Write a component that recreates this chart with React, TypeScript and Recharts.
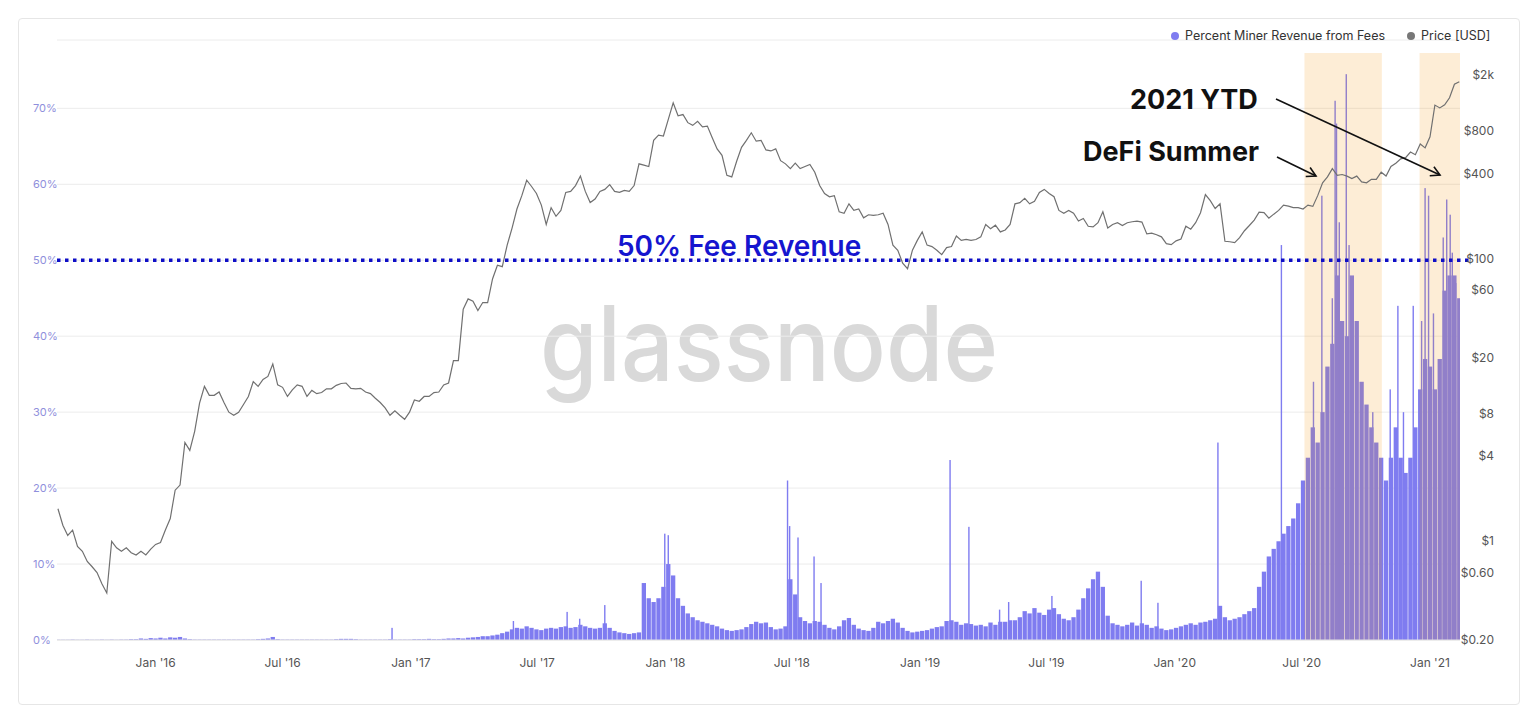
import React from 'react';
import { ComposedChart, Bar, Line, XAxis, YAxis, CartesianGrid, ReferenceLine, ReferenceArea } from 'recharts';

const W = 1537;
const H = 723;
const DAY = 86400000;

// Weekly samples, one every 7 days starting on this date
const firstWeek = '2015-08-14';

// ETH price [USD], weekly
const price2015 = [1.7, 1.3, 1.1, 1.2, 0.92, 0.85, 0.72, 0.66, 0.6, 0.5, 0.43, 1.0, 0.9, 0.85, 0.9, 0.83, 0.8, 0.85, 0.8, 0.88];
const price2016 = [
  0.95, 0.98, 1.2, 1.45, 2.3,
  2.5, 5.0, 4.4, 6.0,
  9.5, 12.5, 10.8, 10.8,
  11.4, 9.6, 8.2, 7.8, 8.2,
  9.3, 10.6, 13.5, 12.5,
  14.0, 14.7, 18.0, 12.8,
  12.3, 10.6, 11.8, 12.8, 12.5,
  10.6, 11.7, 11.1, 11.3,
  12.0, 12.0, 12.7, 13.1, 13.2,
  12.1, 12.0, 12.1, 11.4,
  11.1, 10.3, 9.6, 8.8,
  7.8, 8.4, 7.8, 7.3, 8.2,
];
const price2017 = [
  10.0, 9.8, 10.6, 10.6,
  11.3, 11.4, 12.8, 13.2,
  19.0, 19.0, 44, 52, 50,
  43, 49, 49, 72,
  90, 88, 125, 165,
  225, 280, 360, 325, 290,
  240, 175, 230, 200,
  220, 295, 300, 330,
  385, 300, 250, 265, 300,
  310, 335, 300, 295,
  305, 300, 330, 470,
  460, 450, 690, 750, 740,
];
const price2018 = [
  970, 1270, 1030, 1050,
  920, 880, 940, 860,
  870, 720, 600, 540, 390,
  380, 490, 615, 690,
  780, 680, 690, 590,
  580, 600, 495, 470, 435,
  475, 435, 450, 465,
  410, 330, 290, 275, 280,
  215, 210, 245, 220,
  225, 195, 205, 203,
  205, 210, 175, 125, 115,
  93, 85, 115, 135,
];
const price2019 = [
  155, 125, 122, 115,
  107, 120, 122, 145,
  135, 137, 135, 137, 143,
  175, 163, 173, 155,
  160, 175, 245, 250, 268,
  245, 255, 295, 310,
  290, 275, 220, 210,
  220, 210, 185, 193, 170,
  168, 180, 215, 165,
  175, 180, 172, 180,
  183, 185, 182, 150, 152,
  148, 143, 128, 126,
];
const price2020 = [
  134, 138, 170, 162, 180,
  212, 285, 258, 227,
  245, 133, 132, 130,
  141, 158, 172, 188,
  214, 212, 194, 207, 220,
  240, 236, 230, 230,
  225, 240, 235, 280, 345,
  380, 435, 390, 395,
  385, 370, 385, 350,
  345, 365, 365, 410, 385,
  450, 475, 510, 520,
  570, 545, 650, 610,
];
const price2021 = [730, 1225, 1170, 1230, 1380, 1720, 1790];

// Percent of miner revenue from fees [%], weekly level
const fee2015 = [0.03, 0.03, 0.03, 0.05, 0.03, 0.03, 0.05, 0.03, 0.03, 0.05, 0.03, 0.05, 0.03, 0.05, 0.05, 0.1, 0.1, 0.2, 0.15, 0.25];
const fee2016 = [
  0.2, 0.3, 0.2, 0.35, 0.3, 0.4, 0.2, 0.1, 0.05, 0.05,
  0.05, 0.05, 0.05, 0.05, 0.05, 0.05, 0.05, 0.05, 0.05, 0.05,
  0.05, 0.1, 0.15, 0.2, 0.4, 0.1, 0.05, 0.05, 0.05, 0.05,
  0.05, 0.05, 0.05, 0.05, 0.05, 0.05, 0.05, 0.1, 0.15, 0.15,
  0.15, 0.1, 0.05, 0.05, 0.05, 0.05, 0.05, 0.05, 0.1, 0.05,
  0.05, 0.05, 0.05,
];
const fee2017 = [
  0.1, 0.1, 0.1, 0.15, 0.1, 0.1, 0.15, 0.2,
  0.2, 0.25, 0.2, 0.3, 0.35, 0.4, 0.5, 0.5, 0.6, 0.7,
  0.9, 1.1, 1.4, 1.6, 1.5, 1.8, 1.6, 1.4, 1.3, 1.5,
  1.6, 1.5, 1.7, 1.8, 1.6, 1.7, 2.0, 1.8, 1.6, 1.5,
  1.6, 2.2, 1.6, 1.2, 1.0, 0.9, 0.8, 0.9, 1.0,
  7.5, 5.5, 5.0, 5.5, 7.0,
];
const fee2018 = [
  10, 8.5, 5.5, 4.5, 3.5, 3.0, 2.6, 2.4, 2.2, 2.0,
  1.8, 1.5, 1.3, 1.2, 1.3, 1.4, 1.7, 2.1, 2.4, 2.2,
  2.3, 1.7, 1.4, 1.5, 1.8, 8, 6, 3, 2.5, 2.2,
  2.5, 2.4, 2.0, 1.6, 1.4, 1.8, 2.6, 2.9, 2.0, 1.5,
  1.3, 1.2, 1.6, 2.4, 2.2, 2.5, 2.8, 2.3, 1.6, 1.2,
  1.0, 1.1,
];
const fee2019 = [
  1.2, 1.3, 1.5, 1.7, 1.8, 2.5, 2.6, 2.4, 2.0, 2.2,
  2.1, 1.9, 2.0, 1.8, 2.3, 2.0, 2.4, 2.4, 2.6, 2.6,
  3.0, 3.8, 3.5, 4.2, 3.6, 3.3, 4.0, 4.2, 3.4, 2.8,
  2.6, 3.0, 4.0, 5.5, 6.8, 8.0, 9.0, 7.0, 3.2, 2.2,
  2.0, 1.8, 2.0, 2.3, 1.9, 2.2, 2.0, 1.6, 1.8, 1.5,
  1.3, 1.4,
];
const fee2020 = [
  1.6, 1.8, 2.0, 2.2, 2.0, 2.3, 2.4, 2.6, 2.8, 4.5,
  3.0, 2.6, 2.8, 3.0, 3.4, 3.8, 4.2, 7, 9, 11,
  12, 13, 14, 15, 16, 18, 21, 24, 28, 26,
  30, 36, 39, 48, 42, 40, 48, 42, 34, 31,
  28, 26, 24, 21, 24, 28, 24, 22, 24, 28,
  33, 37,
];
const fee2021 = [36, 33, 37, 46, 48, 48, 45];

// Single-day fee spikes [%]
const spikeDates = [
  '2016-12-05', '2017-05-28', '2017-08-13', '2017-08-31', '2017-10-06', '2017-12-31', '2018-01-05',
  '2018-06-25', '2018-06-28', '2018-07-10', '2018-08-02', '2018-08-12',
  '2019-02-13', '2019-03-12', '2019-04-25', '2019-05-08', '2019-07-09', '2019-11-14', '2019-12-08',
  '2020-03-03', '2020-06-02', '2020-07-18', '2020-07-30', '2020-08-14', '2020-08-18', '2020-08-20',
  '2020-08-24', '2020-09-03', '2020-09-07', '2020-09-12', '2020-10-11', '2020-11-05', '2020-11-16',
  '2020-11-24', '2020-12-08', '2020-12-20', '2020-12-25', '2020-12-30', '2021-01-06', '2021-01-20',
  '2021-01-25', '2021-01-30', '2021-02-02', '2021-02-07',
];
const spikeValues = [
  1.6, 2.5, 3.7, 2.8, 4.6, 14, 13.8,
  21, 15, 13.5, 11, 7.5,
  23.7, 14.9, 4.0, 5.0, 5.8, 7.8, 4.9,
  26, 52, 34, 58.5, 45, 71, 68,
  55, 74.5, 52, 46, 30, 33, 44,
  30, 44, 42, 59.5, 58.5, 43, 53,
  58, 56, 51, 47,
];

// Axis ticks
const xTickDates = ['2016-01-01', '2016-07-01', '2017-01-01', '2017-07-01', '2018-01-01', '2018-07-01', '2019-01-01', '2019-07-01', '2020-01-01', '2020-07-01', '2021-01-01'];
const xTickLabels = ["Jan '16", "Jul '16", "Jan '17", "Jul '17", "Jan '18", "Jul '18", "Jan '19", "Jul '19", "Jan '20", "Jul '20", "Jan '21"];
const feeTicks = [0, 10, 20, 30, 40, 50, 60, 70];
const feeTop = 79;
const priceTicks = [0.2, 0.6, 1, 4, 8, 20, 60, 100, 400, 800, 2000];
const priceTickLabels = ['$0.20', '$0.60', '$1', '$4', '$8', '$20', '$60', '$100', '$400', '$800', '$2k'];
const priceDomain = [0.2, 3540];
const xDomainDates = ['2015-08-12T15:00:00Z', '2021-02-13T00:00:00Z'];

// Highlighted periods
const highlightStarts = ['2020-07-05', '2020-12-17'];
const highlightEnds = ['2020-10-24', '2021-02-13'];
const highlightTop = 77.3;

const FEE_COLOR = '#7f7cf0';
const PRICE_COLOR = '#707070';
const LINE_BLUE = '#0e0ec6';
const FONT = 'Inter, "Noto Sans", sans-serif';
const WEEK_BAR_W = 4.3;
const SPIKE_BAR_W = 1.4;

const weekStart = Date.parse(firstWeek);
const priceWeekly = [...price2015, ...price2016, ...price2017, ...price2018, ...price2019, ...price2020, ...price2021];
const feeWeekly = [...fee2015, ...fee2016, ...fee2017, ...fee2018, ...fee2019, ...fee2020, ...fee2021];
const weeklyRows = priceWeekly.map((price, i) => ({ t: weekStart + i * 7 * DAY, price, fee: feeWeekly[i] }));
const spikeRows = spikeDates.map((d, i) => ({ t: Date.parse(d), fee: spikeValues[i], spike: true }));
const rows: any[] = [...weeklyRows, ...spikeRows].sort((a, b) => a.t - b.t);

const xTicks = xTickDates.map((d) => Date.parse(d));
const xDomain = xDomainDates.map((d) => Date.parse(d));
const xLabel = (v: number) => {
  const i = xTicks.indexOf(v);
  return i >= 0 ? xTickLabels[i] : '';
};

const FeeBar = (props: any) => {
  const { x, y, width, height, payload, fill } = props;
  if (!height || height <= 0 || x == null) return <g />;
  const w = payload && payload.spike ? SPIKE_BAR_W : WEEK_BAR_W;
  const cx = x + (width || 0) / 2;
  return <rect x={cx - w / 2} y={y} width={w} height={height} fill={fill} />;
};

const FeeTick = (props: any) => {
  const { x, y, payload } = props;
  if (payload.value > 70) return <g />;
  return (
    <text x={x - 24} y={y} dy={4} textAnchor="start" fill="#8f8fdc" fontSize={11} fontFamily={FONT}>
      {payload.value}%
    </text>
  );
};

const PriceTick = (props: any) => {
  const { x, y, payload } = props;
  const i = priceTicks.indexOf(payload.value);
  return (
    <text x={x + 34} y={y} dy={4} textAnchor="end" fill="#555" fontSize={12} fontFamily={FONT}>
      {i >= 0 ? priceTickLabels[i] : ''}
    </text>
  );
};

export default function App() {
  return (
    <div style={{ position: 'absolute', left: 0, top: 0, width: W, height: H, background: '#fff', fontFamily: FONT }}>
      <div
        style={{
          position: 'absolute',
          left: 18,
          top: 18,
          width: 1502,
          height: 687,
          border: '1px solid #e6e6e6',
          borderRadius: 4,
          boxSizing: 'border-box',
        }}
      />
      <svg width={W} height={H} style={{ position: 'absolute', left: 0, top: 0 }}>
        <text
          x={769}
          y={381}
          textAnchor="middle"
          fontSize={104}
          fontWeight={500}
          fill="#d9d9d9"
          fontFamily={FONT}
          textLength={458}
          lengthAdjust="spacingAndGlyphs"
        >
          glassnode
        </text>
      </svg>
      <div style={{ position: 'absolute', left: 0, top: 0 }}>
        <ComposedChart width={W} height={H} data={rows} margin={{ top: 40, right: 37, bottom: 53, left: 32 }}>
          <CartesianGrid vertical={false} stroke="#ececec" yAxisId="fee" />
          <XAxis
            dataKey="t"
            type="number"
            domain={xDomain}
            allowDataOverflow
            ticks={xTicks}
            tickFormatter={xLabel}
            height={30}
            tickSize={6}
            tickMargin={12}
            tickLine={false}
            axisLine={{ stroke: '#e3e3e3' }}
            tick={{ fill: '#555', fontSize: 12, fontFamily: FONT }}
          />
          <YAxis
            yAxisId="fee"
            orientation="left"
            domain={[0, feeTop]}
            ticks={[...feeTicks, feeTop]}
            allowDataOverflow
            width={25}
            tickSize={0}
            tickMargin={0}
            axisLine={false}
            tickLine={false}
            tick={FeeTick}
          />
          <YAxis
            yAxisId="price"
            orientation="right"
            scale="log"
            domain={priceDomain}
            ticks={priceTicks}
            allowDataOverflow
            width={40}
            tickSize={0}
            tickMargin={0}
            axisLine={false}
            tickLine={false}
            tick={PriceTick}
          />
          <Bar yAxisId="fee" dataKey="fee" barSize={4} fill={FEE_COLOR} shape={FeeBar} isAnimationActive={false} />
          {highlightStarts.map((s, i) => (
            <ReferenceArea
              key={s}
              yAxisId="fee"
              x1={Date.parse(s)}
              x2={Date.parse(highlightEnds[i])}
              y1={0}
              y2={highlightTop}
              fill="#f28c00"
              fillOpacity={0.16}
              stroke="none"
              ifOverflow="hidden"
              {...({ zIndex: 350 } as any)}
            />
          ))}
          <ReferenceLine
            yAxisId="fee"
            segment={[
              { x: xDomain[0], y: 50 },
              { x: Date.parse('2021-02-27'), y: 50 },
            ]}
            ifOverflow="visible"
            stroke={LINE_BLUE}
            strokeWidth={3.5}
            strokeDasharray="3.5 4.5"
          />
          <Line
            yAxisId="price"
            dataKey="price"
            type="linear"
            stroke={PRICE_COLOR}
            strokeWidth={1.2}
            dot={false}
            connectNulls
            isAnimationActive={false}
          />
        </ComposedChart>
      </div>
      <svg width={W} height={H} style={{ position: 'absolute', left: 0, top: 0, pointerEvents: 'none' }}>
        <defs>
          <marker id="arrowHead" markerWidth="14" markerHeight="14" refX="11" refY="7" orient="auto" markerUnits="userSpaceOnUse">
            <path d="M2,2 L11,7 L2,12" fill="none" stroke="#111" strokeWidth="1.6" />
          </marker>
        </defs>
        <text x={1130} y={109} fontFamily={FONT} fontWeight={700} fontSize={27} fill="#111">
          2021 YTD
        </text>
        <text x={1083} y={161} fontFamily={FONT} fontWeight={700} fontSize={27} fill="#111">
          DeFi Summer
        </text>
        <line x1={1276} y1={99} x2={1440} y2={175} stroke="#111" strokeWidth={1.6} markerEnd="url(#arrowHead)" />
        <line x1={1277} y1={157} x2={1316} y2={176} stroke="#111" strokeWidth={1.6} markerEnd="url(#arrowHead)" />
        <text x={617} y={256} fontFamily={FONT} fontWeight={600} fontSize={28} fill="#1515cf">
          50% Fee Revenue
        </text>
      </svg>
      <div
        style={{
          position: 'absolute',
          left: 1171,
          top: 28,
          display: 'flex',
          alignItems: 'center',
          fontFamily: FONT,
          fontSize: 12.5,
          color: '#333',
          whiteSpace: 'nowrap',
          lineHeight: '16px',
        }}
      >
        <span style={{ width: 8, height: 8, borderRadius: 4, background: FEE_COLOR, display: 'inline-block', marginRight: 6 }} />
        <span>Percent Miner Revenue from Fees</span>
        <span style={{ width: 8, height: 8, borderRadius: 4, background: '#777', display: 'inline-block', marginLeft: 22, marginRight: 6 }} />
        <span>Price [USD]</span>
      </div>
    </div>
  );
}
